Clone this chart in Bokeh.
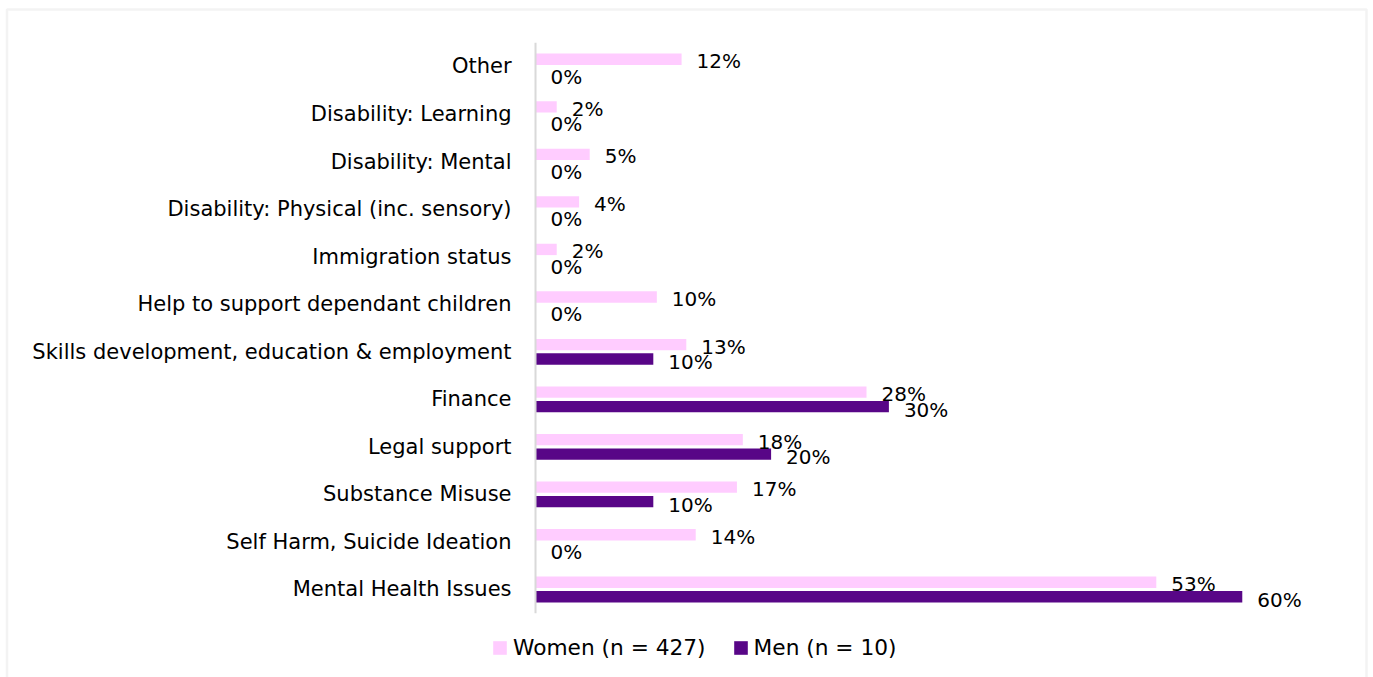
from bokeh.plotting import figure
from bokeh.models import Range1d, ColumnDataSource, Legend, LegendItem, BoxAnnotation
from bokeh.core.properties import value
from bokeh.embed import file_html
from bokeh.resources import INLINE

# Categories listed bottom to top
categories = [
    "Mental Health Issues",
    "Self Harm, Suicide Ideation",
    "Substance Misuse",
    "Legal support",
    "Finance",
    "Skills development, education & employment",
    "Help to support dependant children",
    "Immigration status",
    "Disability: Physical (inc. sensory)",
    "Disability: Mental",
    "Disability: Learning",
    "Other",
]
women = [52.7, 13.6, 17.1, 17.6, 28.1, 12.8, 10.3, 1.8, 3.7, 4.6, 1.8, 12.4]
men = [60, 0, 10, 20, 30, 10, 0, 0, 0, 0, 0, 0]
women_name = "Women (n = 427)"
men_name = "Men (n = 10)"

PINK = "#FFCCFF"
PURPLE = "#580687"
FONT = "DejaVu Sans"

W, H = 1373, 677
pos = list(range(len(categories)))
off = 0.152
bh = 0.238

src = ColumnDataSource(dict(
    cat=categories,
    y=pos,
    yw=[p_ + off for p_ in pos],
    ym=[p_ - off for p_ in pos],
    women=women,
    men=men,
    wlab=[f"{v:.0f}%" for v in women],
    mlab=[f"{v:.0f}%" for v in men],
))

p = figure(width=W, height=H, output_backend="svg", toolbar_location=None,
           x_range=Range1d(-45.42, 71.14), y_range=Range1d(-1.851, 12.388),
           min_border=0, min_border_left=0, min_border_right=0,
           min_border_top=0, min_border_bottom=0)
p.axis.visible = False
p.grid.visible = False
p.outline_line_color = None
p.background_fill_color = "white"
p.border_fill_color = "white"

# chart-area border
p.add_layout(BoxAnnotation(left=6.5, right=1366, top=H - 9, bottom=-20,
                           left_units="screen", right_units="screen",
                           top_units="screen", bottom_units="screen",
                           fill_alpha=0, line_color="#d6d6d6", line_width=2.5))

rw = p.hbar(y="yw", left=0, right="women", height=bh, source=src,
            fill_color=PINK, line_color=None)
rm = p.hbar(y="ym", left=0, right="men", height=bh, source=src,
            fill_color=PURPLE, line_color=None)

# vertical category axis line
p.segment(x0=0, y0=-0.5, x1=0, y1=len(categories) - 0.5,
          line_color="#d9d9d9", line_width=2)

# category labels
p.text(x=0, y="y", text="cat", source=src, x_offset=-24, text_align="right",
       text_baseline="middle", text_font=value(FONT), text_font_size="21px",
       text_color="black")

# data labels
p.text(x="women", y="yw", text="wlab", source=src, x_offset=15, y_offset=2,
       text_align="left", text_baseline="middle", text_font=value(FONT),
       text_font_size="20px", text_color="black")
p.text(x="men", y="ym", text="mlab", source=src, x_offset=15, y_offset=3,
       text_align="left", text_baseline="middle", text_font=value(FONT),
       text_font_size="20px", text_color="black")

legend = Legend(items=[LegendItem(label=women_name, renderers=[rw]),
                       LegendItem(label=men_name, renderers=[rm])],
                orientation="horizontal", location=(491, 17),
                glyph_width=17, glyph_height=17, label_standoff=5, spacing=26,
                padding=0, margin=0, border_line_color=None,
                background_fill_alpha=0, label_text_font=FONT,
                label_text_font_size="21.7px", label_text_color="black")
p.add_layout(legend)

open("out.html", "w").write(file_html(p, INLINE))
